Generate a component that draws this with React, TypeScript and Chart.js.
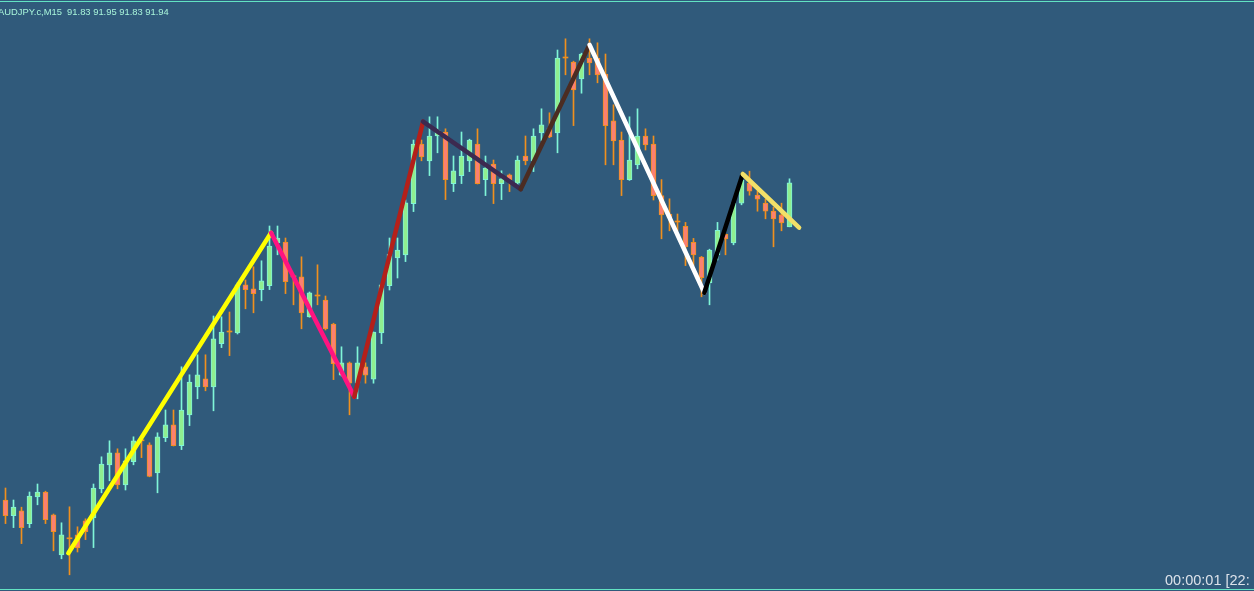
import React, { useEffect, useRef } from "react";
import { Chart, registerables } from "chart.js";
Chart.register(...registerables);

// AUDJPY.c M15 candles (oldest -> newest)
const opens = [
  91.147, 91.108, 91.120, 91.088, 91.155, 91.167, 91.110, 91.010, 91.050, 91.060,
  91.095, 91.102, 91.175, 91.235, 91.265, 91.185, 91.243, 91.295, 91.285, 91.215,
  91.303, 91.335, 91.283, 91.360, 91.430, 91.450, 91.430, 91.538, 91.567, 91.565,
  91.685, 91.675, 91.673, 91.683, 91.790, 91.792, 91.705, 91.705, 91.605, 91.657,
  91.647, 91.587, 91.459, 91.490, 91.439, 91.480, 91.449, 91.565, 91.683, 91.752,
  91.760, 91.888, 92.037, 91.995, 92.057, 92.067, 91.938, 91.958, 91.995, 92.037,
  91.948, 91.987, 91.938, 91.960, 91.939, 92.007, 91.995, 92.065, 92.077, 92.065,
  92.252, 92.242, 92.200, 92.252, 92.252, 92.212, 92.095, 92.047, 91.948, 91.985,
  92.057, 92.037, 91.908, 91.862, 91.842, 91.831, 91.791, 91.754, 91.690, 91.760,
  91.811, 91.790, 91.889, 91.939, 91.909, 91.889, 91.869, 91.860, 91.830,
];
const highs = [
  91.177, 91.147, 91.129, 91.167, 91.187, 91.169, 91.112, 91.090, 91.130, 91.080,
  91.100, 91.187, 91.255, 91.295, 91.275, 91.275, 91.305, 91.297, 91.290, 91.315,
  91.372, 91.372, 91.480, 91.460, 91.510, 91.510, 91.607, 91.605, 91.617, 91.690,
  91.697, 91.730, 91.745, 91.832, 91.832, 91.802, 91.707, 91.755, 91.667, 91.735,
  91.657, 91.589, 91.530, 91.492, 91.530, 91.490, 91.567, 91.687, 91.802, 91.802,
  91.897, 92.047, 92.047, 92.105, 92.105, 92.075, 92.007, 92.067, 92.049, 92.075,
  92.007, 91.997, 91.970, 91.962, 92.007, 92.057, 92.075, 92.125, 92.115, 92.272,
  92.300, 92.244, 92.264, 92.300, 92.290, 92.262, 92.135, 92.067, 92.105, 92.125,
  92.075, 92.057, 91.948, 91.900, 91.862, 91.841, 91.801, 91.756, 91.774, 91.841,
  91.812, 91.890, 91.960, 91.969, 91.919, 91.899, 91.879, 91.889, 91.950,
];
const lows = [
  91.088, 91.078, 91.038, 91.078, 91.135, 91.088, 91.020, 91.000, 90.960, 91.017,
  91.048, 91.028, 91.165, 91.195, 91.175, 91.172, 91.235, 91.253, 91.205, 91.165,
  91.293, 91.282, 91.273, 91.333, 91.400, 91.420, 91.370, 91.528, 91.508, 91.562,
  91.625, 91.615, 91.645, 91.673, 91.760, 91.663, 91.635, 91.575, 91.604, 91.635,
  91.572, 91.448, 91.457, 91.360, 91.400, 91.439, 91.439, 91.538, 91.672, 91.702,
  91.743, 91.868, 91.995, 91.958, 92.015, 91.898, 91.918, 91.938, 91.968, 91.937,
  91.908, 91.888, 91.898, 91.918, 91.935, 91.985, 91.968, 92.045, 92.053, 92.015,
  92.210, 92.083, 92.164, 92.210, 92.190, 91.985, 91.985, 91.908, 91.946, 91.975,
  92.022, 91.897, 91.800, 91.820, 91.820, 91.733, 91.733, 91.655, 91.635, 91.747,
  91.760, 91.785, 91.885, 91.909, 91.869, 91.850, 91.780, 91.820, 91.830,
];
const closes = [
  91.108, 91.129, 91.078, 91.157, 91.167, 91.098, 91.068, 91.060, 91.050, 91.027,
  91.068, 91.177, 91.237, 91.265, 91.185, 91.245, 91.295, 91.295, 91.206, 91.305,
  91.335, 91.283, 91.372, 91.442, 91.460, 91.430, 91.550, 91.567, 91.567, 91.685,
  91.673, 91.663, 91.695, 91.782, 91.802, 91.693, 91.705, 91.615, 91.665, 91.657,
  91.575, 91.488, 91.490, 91.439, 91.490, 91.459, 91.567, 91.685, 91.762, 91.772,
  91.890, 92.037, 92.005, 92.057, 92.072, 91.948, 91.970, 92.007, 92.047, 91.938,
  91.977, 91.938, 91.950, 91.947, 91.997, 91.995, 92.057, 92.085, 92.055, 92.252,
  92.252, 92.172, 92.262, 92.240, 92.210, 92.083, 92.045, 91.948, 91.997, 92.057,
  92.035, 91.908, 91.860, 91.852, 91.842, 91.780, 91.760, 91.703, 91.772, 91.821,
  91.800, 91.889, 91.947, 91.919, 91.899, 91.869, 91.850, 91.840, 91.940,
];

// ZigZag pivots (bar index, price) and segment colours
const zigzagX = [7.85, 33.2, 43.6, 52.2, 64.4, 73.0, 87.35, 92.15, 99.2];
const zigzagY = [91.014, 91.815, 91.405, 92.093, 91.924, 92.285, 91.665, 91.962, 91.828];
const zigzagColors = ["#FFFF00", "#FF1480", "#B4201A", "#3C2A50", "#4B2C22", "#FFFFFF", "#000000", "#F2E068"];

const headerText = "AUDJPY.c,M15  91.83 91.95 91.83 91.94";
const timerText = "00:00:01 [22:";

const BG = "#305A7B";
const BULL_BODY = "#90EE90";
const BULL_WICK = "#7FF5D8";
const BEAR_BODY = "#FA8072";
const BEAR_WICK = "#F0901E";

const W = 1254;
const H = 591;
const PX_PER_BAR = 8;
const X_MIN = -5.5 / PX_PER_BAR;
const X_MAX = X_MIN + W / PX_PER_BAR;
const Y_MAX = 92.397;
const Y_MIN = Y_MAX - H / 400;

export default function App() {
  const ref = useRef<HTMLCanvasElement>(null);
  useEffect(() => {
    document.body.style.margin = "0";
    document.body.style.overflow = "hidden";
    const idx = opens.map((_, i) => i);
    const bull = idx.map((i) => closes[i] > opens[i]);
    const doji = idx.map((i) => Math.abs(closes[i] - opens[i]) < 0.001);
    const chart = new Chart(ref.current!, {
      type: "bar",
      data: {
        datasets: [
          {
            type: "line",
            data: zigzagX.map((x, i) => ({ x, y: zigzagY[i] })),
            borderWidth: 4.5,
            pointRadius: 0,
            borderColor: zigzagColors[0],
            segment: { borderColor: (c: any) => zigzagColors[c.p0DataIndex] },
            borderCapStyle: "round",
            borderJoinStyle: "round",
            tension: 0,
            order: 0,
          } as any,
          {
            type: "bar",
            data: idx.map((i) => ({
              x: i,
              y: doji[i]
                ? [opens[i], opens[i] + 0.0025]
                : [Math.min(opens[i], closes[i]), Math.max(opens[i], closes[i])],
            })),
            backgroundColor: idx.map((i) => (doji[i] ? BEAR_WICK : bull[i] ? BULL_BODY : BEAR_BODY)),
            borderColor: idx.map((i) => (bull[i] ? BULL_WICK : BEAR_WICK)),
            borderWidth: idx.map((i) => (doji[i] ? 0 : 1)),
            borderSkipped: false,
            barThickness: 5,
            grouped: false,
            order: 1,
          } as any,
          {
            type: "bar",
            data: idx.map((i) => ({ x: i, y: [lows[i], highs[i]] })),
            backgroundColor: idx.map((i) => (bull[i] ? BULL_WICK : BEAR_WICK)),
            borderWidth: 0,
            barThickness: 1,
            grouped: false,
            order: 2,
          } as any,
        ],
      },
      options: {
        animation: false,
        responsive: false,
        devicePixelRatio: 1,
        layout: { padding: 0 },
        plugins: { legend: { display: false }, tooltip: { enabled: false } },
        scales: {
          x: { type: "linear", min: X_MIN, max: X_MAX, offset: false, display: false },
          y: { type: "linear", min: Y_MIN, max: Y_MAX, display: false },
        },
      } as any,
    });
    return () => chart.destroy();
  }, []);

  return (
    <div style={{ position: "relative", width: W, height: H, background: BG, overflow: "hidden" }}>
      <canvas ref={ref} width={W} height={H} style={{ position: "absolute", left: 0, top: 0, width: W, height: H }} />
      <div style={{ position: "absolute", left: 0, top: 1, width: W, height: 1, background: "#62E3C3" }} />
      <div style={{ position: "absolute", left: 0, top: 589, width: W, height: 1, background: "#62E3C3" }} />
      <div
        style={{
          position: "absolute",
          left: -2,
          top: 6,
          font: "9.4px 'Liberation Sans', Arial, sans-serif",
          color: "#A8F5DA",
          whiteSpace: "pre",
        }}
      >
        {headerText}
      </div>
      <div
        style={{
          position: "absolute",
          left: 1165,
          top: 572,
          font: "14.5px 'Liberation Sans', Arial, sans-serif",
          color: "#DCE2EA",
          whiteSpace: "pre",
        }}
      >
        {timerText}
      </div>
    </div>
  );
}
